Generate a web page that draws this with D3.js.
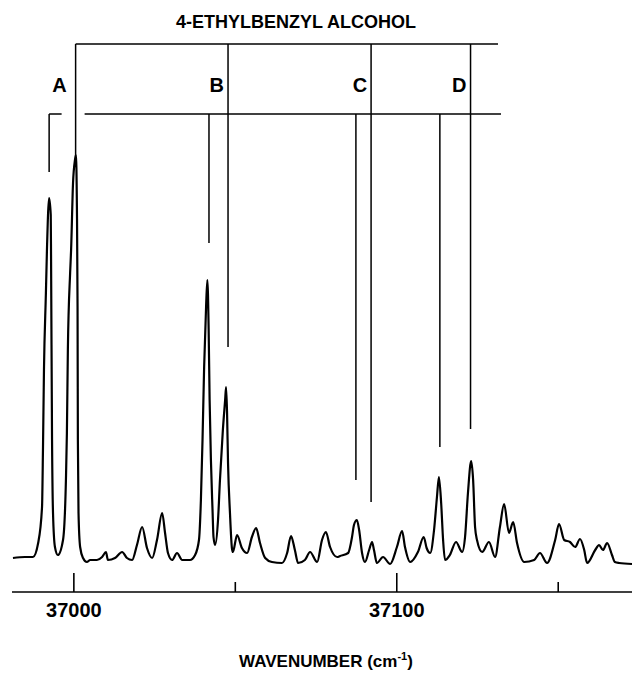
<!DOCTYPE html>
<html>
<head>
  <meta charset=utf-8>
  <title>4-Ethylbenzyl alcohol spectrum</title>
  <script src="https://d3js.org/d3.v7.min.js"></script>
  <style>
    body { margin: 0; background: #fff; }
    svg text { font-family: "Liberation Sans", Arial, Helvetica, sans-serif; font-weight: bold; fill: #000; }
  </style>
</head>
<body>
<div id="chart"></div>
<script>

// spectrum trace: wavenumber (cm-1), intensity (arb. units)
var wavenumbers = [
  36981.3, 36985.0, 36987.5, 36989.1, 36990.3, 36990.6, 36990.9, 36991.5, 36991.8, 36992.5,
  36993.0, 36993.1, 36993.4, 36993.7, 36994.3, 36995.2,
  36996.8, 36997.7, 36998.0, 36998.3, 36999.0, 36999.3, 36999.9, 37000.5, 37000.8,
  37001.1, 37001.3, 37001.4, 37001.6, 37002.1, 37003.0, 37004.2, 37005.2, 37007.3, 37008.9,
  37010.1, 37010.7, 37012.9, 37015.1, 37016.6, 37018.2, 37019.7, 37021.3, 37022.8, 37024.4,
  37025.9, 37027.5, 37028.4, 37029.3, 37030.6, 37032.1, 37033.7, 37036.1, 37037.7, 37038.9,
  37039.5, 37040.0, 37040.5, 37041.1, 37041.5, 37041.9, 37042.2, 37042.6, 37043.1, 37043.4, 37043.9,
  37044.8, 37045.4, 37046.3, 37047.0, 37047.3, 37047.6, 37047.9, 37048.5, 37049.1, 37049.4,
  37050.7, 37052.2, 37053.8, 37055.3, 37056.6, 37057.8, 37059.4, 37061.5, 37064.6, 37066.2,
  37067.4, 37068.6, 37069.6, 37071.7, 37073.3, 37075.5, 37077.0, 37078.2, 37079.5, 37081.7,
  37082.6, 37085.1, 37086.3, 37086.9, 37087.8, 37088.5, 37089.4, 37090.3, 37091.6, 37092.5,
  37093.1, 37094.0, 37095.9, 37098.1, 37100.2, 37101.8, 37102.7, 37104.3, 37106.7, 37108.5,
  37109.4, 37110.5, 37111.7, 37112.6, 37113.2, 37113.9, 37114.5, 37115.1, 37116.6, 37118.5,
  37120.4, 37121.3, 37122.2, 37123.2, 37123.8, 37124.4, 37125.0, 37126.6, 37128.7, 37130.6,
  37132.1, 37133.4, 37134.9, 37136.2, 37137.4, 37139.6, 37142.7, 37144.5, 37146.7, 37149.2,
  37150.4, 37152.0, 37153.8, 37155.4, 37156.9, 37158.2, 37159.1, 37161.6, 37162.8, 37164.0,
  37165.3, 37166.8, 37167.7, 37169.0, 37173.0
];
var intensities = [
  7, 8, 8, 22, 58, 118, 195, 272, 312, 367,
  350, 305, 125, 52, 18, 10,
  25, 85, 132, 215, 292, 315, 382, 405, 410,
  358, 258, 125, 52, 18, 7, 3, 5, 5, 8,
  13, 5, 7, 13, 7, 5, 20, 38, 17, 7,
  25, 52, 32, 12, 5, 12, 5, 5, 10, 25,
  65, 125, 198, 258, 285, 235, 165, 105, 55, 28, 20,
  45, 85, 135, 165, 178, 152, 102, 52, 17, 13,
  30, 17, 12, 28, 37, 22, 7, 3, 2, 12,
  29, 15, 2, 5, 13, 3, 25, 33, 18, 8,
  9, 12, 28, 40, 45, 35, 12, 3, 15, 23,
  15, 2, 8, 1, 18, 34, 18, 3, 13, 28,
  17, 12, 35, 68, 88, 62, 25, 5, 10, 23,
  13, 28, 72, 104, 85, 38, 25, 13, 23, 8,
  38, 61, 32, 43, 22, 3, 5, 12, 2, 25,
  41, 25, 23, 18, 26, 15, 2, 15, 20, 15,
  22, 10, 3, 2, 1
];

// vibronic progressions: two members each, the lower one hangs off the lower bar
var progLabels = ['A', 'B', 'C', 'D'];
var lowerLine = [36992.5, 37042.0, 37087.5, 37113.5];
var upperLine = [37000.7, 37047.9, 37092.2, 37123.0];
var lowerEnd = [393, 322, 85, 118];
var upperEnd = [405, 218, 63, 136];
var barEnd = 37131.5;

var xTicks = [37000, 37050, 37100, 37150];
var xTickLabels = ['37000', '', '37100', ''];

var width = 632, height = 673;

var svg = d3.select('#chart').append('svg')
  .attr('width', width)
  .attr('height', height);

var x = d3.scaleLinear().domain([36981, 37173]).range([12, 632]);
var y = d3.scaleLinear().domain([0, 400]).range([565, 165]);

var topBar = 44, lowBar = 114, axisY = 592;

// axis
var axis = d3.axisBottom(x)
  .tickValues(xTicks)
  .tickSize(0)
  .tickFormat(function (d, i) { return xTickLabels[i]; });

var gAxis = svg.append('g')
  .attr('transform', 'translate(0,' + axisY + ')')
  .call(axis);
gAxis.select('.domain').attr('d', 'M12,0H632').attr('stroke', '#000').attr('stroke-width', 1.6);
gAxis.selectAll('.tick line')
  .attr('y2', function (d) { return d % 100 === 0 ? -19 : -10; })
  .attr('stroke', '#000')
  .attr('stroke-width', 1.6);
gAxis.selectAll('.tick text')
  .attr('y', 25)
  .attr('dy', 0)
  .style('font-size', '20px');

// spectrum
var pts = wavenumbers.map(function (w, i) { return [w, intensities[i]]; });
var line = d3.line()
  .x(function (d) { return x(d[0]); })
  .y(function (d) { return y(d[1]); })
  .curve(d3.curveMonotoneX);

svg.append('path')
  .datum(pts)
  .attr('d', line)
  .attr('fill', 'none')
  .attr('stroke', '#000')
  .attr('stroke-width', 2.2)
  .attr('stroke-linejoin', 'round');

// assignment ladder
var ladder = svg.append('g').attr('stroke', '#000').attr('stroke-width', 1.5).attr('fill', 'none');

ladder.append('line')
  .attr('x1', x(upperLine[0])).attr('x2', x(barEnd))
  .attr('y1', topBar).attr('y2', topBar);
ladder.append('line')
  .attr('x1', x(lowerLine[0])).attr('x2', x(upperLine[0]) - 14)
  .attr('y1', lowBar).attr('y2', lowBar);
ladder.append('line')
  .attr('x1', x(upperLine[0]) + 9).attr('x2', x(barEnd) + 3)
  .attr('y1', lowBar).attr('y2', lowBar);

ladder.selectAll('.up')
  .data(upperLine)
  .enter().append('line')
  .attr('x1', function (d) { return x(d); })
  .attr('x2', function (d) { return x(d); })
  .attr('y1', topBar)
  .attr('y2', function (d, i) { return y(upperEnd[i]); });

ladder.selectAll('.low')
  .data(lowerLine)
  .enter().append('line')
  .attr('x1', function (d) { return x(d); })
  .attr('x2', function (d) { return x(d); })
  .attr('y1', lowBar)
  .attr('y2', function (d, i) { return y(lowerEnd[i]); });

svg.selectAll('.prog')
  .data(progLabels)
  .enter().append('text')
  .attr('x', function (d, i) { return x(upperLine[i]) - (i === 0 ? 9 : 4); })
  .attr('y', 92)
  .attr('text-anchor', 'end')
  .style('font-size', '20px')
  .text(function (d) { return d; });

// titles
svg.append('text')
  .attr('x', 296)
  .attr('y', 28)
  .attr('text-anchor', 'middle')
  .style('font-size', '18px')
  .text('4-ETHYLBENZYL ALCOHOL');

var xl = svg.append('text')
  .attr('x', 326)
  .attr('y', 667)
  .attr('text-anchor', 'middle')
  .style('font-size', '17px');
xl.append('tspan').text('WAVENUMBER (cm');
xl.append('tspan').attr('dy', -7).style('font-size', '11px').text('-1');
xl.append('tspan').attr('dy', 7).text(')');

</script>
</body>
</html>
